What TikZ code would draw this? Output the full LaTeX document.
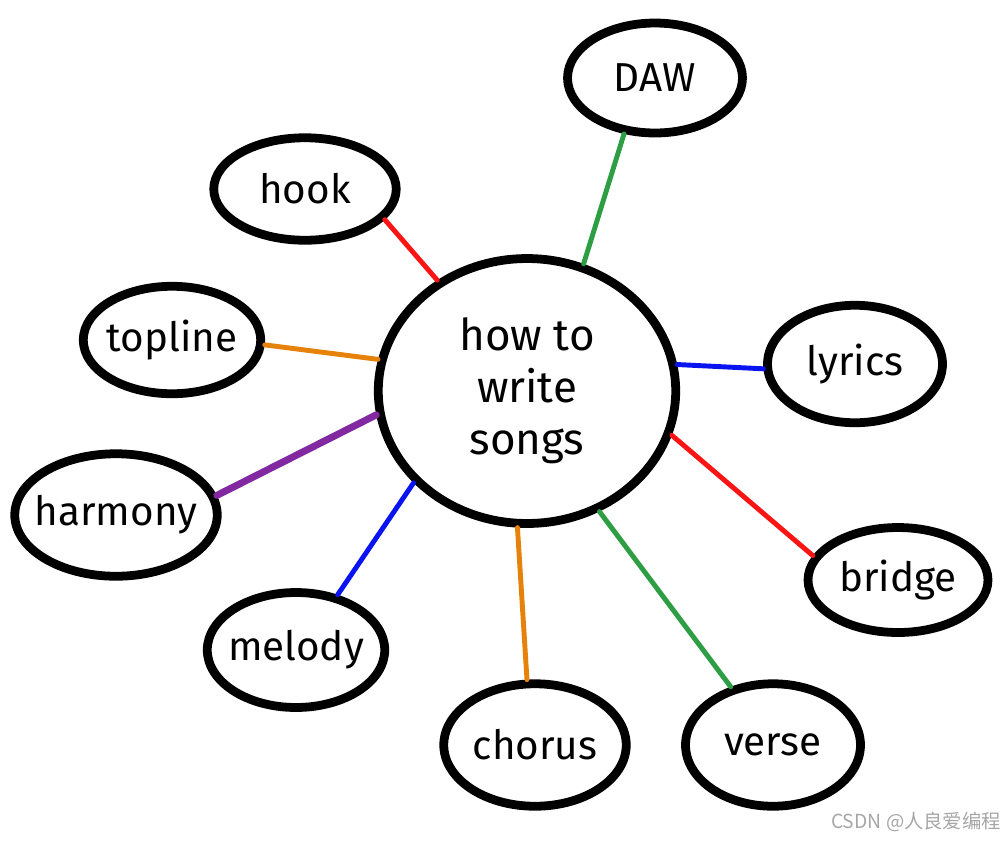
\documentclass[tikz,border=0pt]{standalone}
\usepackage{fontspec}
\setmainfont{Fira Sans}
\newfontfamily\cjk{Noto Sans CJK SC}
\usepackage{xcolor}
\usetikzlibrary{shapes.geometric}
\definecolor{linkgreen}{RGB}{46,158,68}
\definecolor{linkred}{RGB}{250,20,20}
\definecolor{linkorange}{RGB}{230,130,10}
\definecolor{linkblue}{RGB}{10,20,240}
\definecolor{linkpurple}{RGB}{130,40,160}

\tikzset{
  idea/.style={ellipse, draw=black, line width=5pt, fill=white, inner xsep=-6pt, inner ysep=0pt,
    font=\fontsize{23}{29}\selectfont, text=black},
  hub/.style={idea, align=center, font=\fontsize{25}{29.5}\selectfont},
  link/.style={line width=2.8pt, line cap=round}
}

\begin{document}
\begin{tikzpicture}[x=0.02cm, y=-0.02cm]
\useasboundingbox (0,0) rectangle (1007,840);
\node[hub, minimum width=5.95cm, minimum height=5.3cm] (songs) at (527,391) {how to\\ write\\ songs};
\node[idea, minimum width=3.5cm, minimum height=2.2cm] (daw) at (655,78) {DAW};
\node[idea, minimum width=3.65cm, minimum height=2.05cm] (hook) at (305,189) {hook};
\node[idea, minimum width=3.55cm, minimum height=2.15cm] (topline) at (172,340) {topline};
\node[idea, minimum width=3.5cm, minimum height=2.35cm] (lyrics) at (855,364) {lyrics};
\node[idea, minimum width=4.05cm, minimum height=2.45cm] (harmony) at (116,515) {harmony};
\node[idea, minimum width=3.6cm, minimum height=2.1cm] (bridge) at (898,580) {bridge};
\node[idea, minimum width=3.55cm, minimum height=2.3cm] (melody) at (296,650) {melody};
\node[idea, minimum width=3.65cm, minimum height=2.45cm] (chorus) at (535,745) {chorus};
\node[idea, minimum width=3.5cm, minimum height=2.45cm] (verse) at (773,745) {verse};
% connectors from the hub
\draw[link, linkgreen] (songs.66) -- (daw.241);
\draw[link, linkred] (songs.129) -- (hook.-21);
\draw[link, linkorange] (songs.168) -- (topline.-3);
\draw[link, linkblue] (songs.10) -- (lyrics.183);
\draw[link, linkpurple, line width=4pt] (songs.189) -- (harmony.11);
\draw[link, linkred] (songs.343) -- (bridge.164);
\draw[link, linkblue] (songs.219) -- (melody.53);
\draw[link, linkorange] (songs.266) -- (chorus.97);
\draw[link, linkgreen] (songs.301) -- (verse.126);
% watermark
\node[text=black!35, font=\cjk\fontsize{11}{13}\selectfont] (mark) at (916,822) {CSDN @人良爱编程};
\end{tikzpicture}
\end{document}
